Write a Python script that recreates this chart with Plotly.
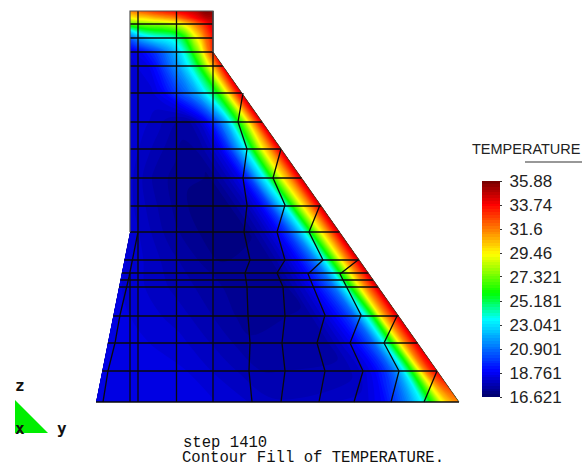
import plotly.graph_objects as go

# isotherm table: rows of the section (image z level), columns run from sloped face inward
row_levels = [11, 18, 24, 31, 38, 52, 66, 93, 122, 149, 178, 206, 232, 260, 287, 316, 343, 371, 402]
face_offsets = [0, 6, 12, 18, 24, 30, 36, 44, 52, 62, 75, 92]
temperature = [
    [35.6,35.8,35.8,35.5,35.0,34.8,34.6,34.4,34.2,33.8,33.5,33.0,32.5,32.0,31.5],
    [35.0,35.0,34.8,34.4,34.0,33.6,33.2,32.6,32.0,31.4,31.0,30.5,30.0,29.8,29.3],
    [34.5,34.0,33.3,32.6,32.0,31.3,30.6,29.8,29.0,28.5,28.0,27.8,27.6,27.3,27.0],
    [34.0,33.3,32.5,31.6,30.8,30.0,29.0,27.7,26.8,26.2,25.8,25.5,25.2,24.5,23.0],
    [33.5,32.6,31.8,30.5,29.5,28.5,27.3,25.8,24.8,24.0,23.6,23.2,22.6,21.8,20.5],
    [33.0,31.8,30.5,28.8,27.5,26.5,25.2,24.0,23.0,22.0,21.0,19.8,19.2,18.7,18.4],
    [34.0,32.5,31.0,29.5,28.0,26.5,25.3,24.0,23.0,21.8,20.8,19.3,18.6,18.4,18.3],
    [34.5,33.0,31.0,29.0,27.0,25.5,24.5,23.2,22.0,21.0,20.0,18.8,18.3,18.2,18.3],
    [34.5,32.5,30.3,27.8,25.8,24.0,22.2,20.6,19.3,18.2,17.5,17.7,18.0,18.2,18.3],
    [34.5,32.8,31.0,29.5,27.3,25.3,23.4,21.5,19.8,18.5,17.7,17.2,17.5,17.9,18.3],
    [34.6,33.0,31.2,29.8,27.8,25.8,23.8,22.0,20.0,18.6,17.8,17.1,17.2,17.5,18.2],
    [34.6,33.0,31.2,29.6,27.6,25.6,23.6,21.8,20.0,18.7,17.8,17.1,17.0,17.5,18.2],
    [34.7,33.0,31.2,29.5,27.4,25.3,23.4,21.5,20.0,18.8,17.9,17.1,17.0,17.5,18.3],
    [34.7,33.0,31.4,29.5,27.2,25.2,23.2,21.2,20.0,18.9,18.0,17.2,17.1,17.7,18.4],
    [34.7,33.0,31.5,29.6,27.0,25.0,23.0,21.0,20.0,19.0,18.1,17.3,17.3,17.8,18.4],
    [34.5,33.0,31.5,29.7,26.5,24.5,22.8,20.8,19.8,19.0,18.2,17.4,17.3,18.0,18.5],
    [34.5,33.0,31.5,29.5,26.6,24.6,22.7,20.8,19.8,18.9,18.2,17.5,17.4,18.2,18.6],
    [34.0,33.0,31.5,29.2,26.5,24.5,22.6,20.9,19.8,18.9,18.2,17.7,17.6,18.4,18.6],
    [31.5,31.0,30.2,29.0,27.0,25.5,23.8,22.5,21.3,20.2,19.0,18.3,17.9,18.6,18.6],
]

tick_values = [35.88, 33.74, 31.6, 29.46, 27.321, 25.181, 23.041, 20.901, 18.761, 16.621]

# mesh of the section
mesh_rows = [24, 38, 52, 66, 93, 122, 149, 178, 206, 232, 260, 273, 280, 287, 316, 343, 371]
mesh_columns = [
    [(138, 11), (138, 402)],
    [(176.5, 11), (176.5, 402)],
    [(213, 11), (213, 402)],
    [(138, 232), (129, 277), (120, 315), (115, 343), (108, 371), (103, 402)],
    [(130, 273), (130, 402)],
    [(243, 93), (238, 122), (247, 149), (243, 178), (247, 205), (244, 232), (250, 260), (245, 273),
     (247, 287), (248, 316), (250, 343), (249, 371), (252, 402)],
    [(281, 149), (273, 178), (285, 205), (277, 232), (285, 260), (277, 273), (283, 287), (285, 316),
     (282, 343), (285, 371), (281, 402)],
    [(320, 205), (309, 232), (323, 260), (308, 274), (325, 315), (317, 343), (325, 371), (319, 402)],
    [(358, 260), (340, 274), (361, 315), (350, 343), (363, 371), (354, 402)],
    [(397, 316), (384, 343), (399, 371), (391, 402)],
    [(437, 371), (424, 402)],
]
base_edge = [(96, 402), (459, 402)]
crest_edge = [(130, 232), (130, 11), (213, 11), (213, 52)]
slope_edge = [(213, 52), (459, 402)]
triad = [(15, 400), (15, 433), (48, 433), (15, 400)]


def left_edge(y):
    return 130 if y <= 232 else 130 - 34 * (y - 232) / 170


def right_edge(y):
    return 213 if y <= 52 else 213 + 246 * (y - 52) / 350


x_grid, y_grid = [], []
for y in row_levels:
    xl, xr = left_edge(y), right_edge(y)
    w = xr - xl
    k = min(1.0, w / 130)
    d = [o * k for o in face_offsets]
    rest = w - d[-1]
    d += [d[-1] + rest * i / 3 for i in (1, 2, 3)]
    x_grid.append([xr - v for v in d])
    y_grid.append([y] * len(d))

colors = [
    [0.0, "rgb(0,0,105)"], [0.12, "rgb(0,0,255)"], [0.36, "rgb(0,255,255)"],
    [0.48, "rgb(0,255,0)"], [0.66, "rgb(255,255,0)"], [0.89, "rgb(255,0,0)"], [1.0, "rgb(120,0,0)"],
]

fig = go.Figure()
axis_off = dict(showgrid=False, showticklabels="none", showline=False, startline=False, endline=False,
                minorgridcount=0, smoothing=0)
fig.add_trace(go.Carpet(carpet="c", a=list(range(len(x_grid[0]))), b=list(range(len(row_levels))),
                        x=x_grid, y=y_grid, aaxis=axis_off, baxis=axis_off))
fig.add_trace(go.Contourcarpet(
    carpet="c", a=list(range(len(x_grid[0]))), b=list(range(len(row_levels))), z=temperature,
    autocontour=False, contours=dict(start=16.621, end=35.88, size=0.25, coloring="fill", showlines=False),
    line=dict(width=0), colorscale=colors, zauto=False, zmin=16.621, zmax=35.88,
    colorbar=dict(x=482 / 582, xanchor="left", xref="paper", y=(470 - 289) / 470, yanchor="middle",
                  lenmode="pixels", len=216, thicknessmode="pixels", thickness=18, outlinewidth=0,
                  xpad=0, ypad=0, tickmode="array", tickvals=tick_values,
                  ticktext=["\u00a0" + str(v) for v in tick_values], ticks="outside", ticklen=2, tickwidth=1,
                  tickcolor="#333", tickfont=dict(family="Liberation Sans", size=17, color="#222")),
))

mx, my = [], []
for y in mesh_rows:
    mx += [left_edge(y), right_edge(y), None]
    my += [y, y, None]
for col in mesh_columns + [base_edge]:
    mx += [p[0] for p in col] + [None]
    my += [p[1] for p in col] + [None]
fig.add_trace(go.Scatter(x=mx, y=my, mode="lines", line=dict(color="#0a0a0a", width=1.3), hoverinfo="skip",
                         showlegend=False))
fig.add_trace(go.Scatter(x=[p[0] for p in crest_edge], y=[p[1] for p in crest_edge], mode="lines",
                         line=dict(color="#555", width=1.2), hoverinfo="skip", showlegend=False))
fig.add_trace(go.Scatter(x=[p[0] for p in slope_edge], y=[p[1] for p in slope_edge], mode="lines",
                         line=dict(color="#333", width=0.7), hoverinfo="skip", showlegend=False))
fig.add_trace(go.Scatter(x=[p[0] for p in triad], y=[p[1] for p in triad], mode="lines", fill="toself",
                         fillcolor="#00ee00", line=dict(width=0), showlegend=False, hoverinfo="skip"))
fig.add_trace(go.Scatter(x=[525, 582], y=[162, 162], mode="lines", line=dict(color="#333", width=1.2),
                         showlegend=False, hoverinfo="skip"))


def label(text, x, y, size, family, anchor="left", color="#111"):
    fig.add_annotation(x=x, y=y, text=text, showarrow=False, xanchor=anchor, yanchor="middle",
                       font=dict(family=family, size=size, color=color), xref="x", yref="y",
                       align="left", borderpad=0, borderwidth=0)


label("TEMPERATURE", 472, 149, 14.5, "Liberation Sans", color="#222")
label("<b>z</b>", 15, 385, 16, "DejaVu Sans Mono")
label("<b>x</b>", 15, 428, 16, "DejaVu Sans Mono")
label("<b>y</b>", 57, 428, 16, "DejaVu Sans Mono")
label("step 1410", 183, 443, 15.6, "Liberation Mono")
label("Contour Fill of TEMPERATURE.", 182, 458, 15.6, "Liberation Mono")

fig.update_layout(
    width=582, height=470, margin=dict(l=0, r=0, t=0, b=0), paper_bgcolor="white", plot_bgcolor="white",
    showlegend=False,
    xaxis=dict(range=[0, 582], visible=False, fixedrange=True),
    yaxis=dict(range=[470, 0], visible=False, fixedrange=True),
)
fig.write_html("out.html", config={"displayModeBar": False},
               post_script="document.body.style.margin='0';document.documentElement.style.overflow='hidden';")
